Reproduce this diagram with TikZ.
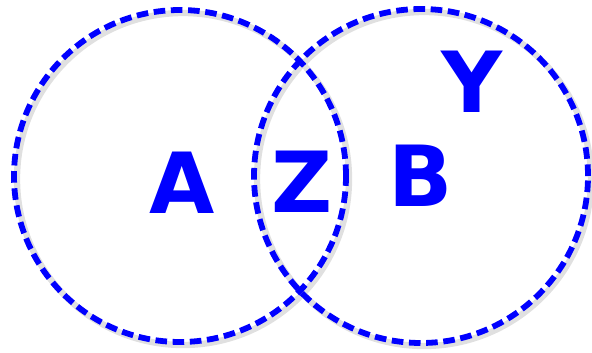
\documentclass[tikz,border=0pt]{standalone}
\usepackage{fontspec}
\setsansfont{DejaVu Sans}
\usetikzlibrary{positioning}

\tikzset{
  setline/.style={draw=blue, line width=3.3pt, dash pattern=on 6.6pt off 3.2pt},
  setshadow/.style={draw=black!12, line width=3.6pt},
  letter/.style={text=blue, font=\sffamily\bfseries\fontsize{48}{56}\selectfont, inner sep=0pt}
}

\begin{document}
\begin{tikzpicture}
          \useasboundingbox (0,0) rectangle (11.84,7.04);

          % shadows
          \draw[setshadow] (3.66,3.46) circle (3.32);
          \draw[setshadow] (8.48,3.46) circle (3.34);

          % sets
          \draw[setline] (3.6,3.52) circle (3.32);
          \draw[setline] (8.42,3.52) circle (3.34);

          \node[letter] (A) at (3.64,3.38) {A};
          \node[letter] (Z) at (6.04,3.40) {Z};
          \node[letter] (B) at (8.42,3.52) {B};
          \node[letter] (Y) at (9.44,5.40) {Y};
        \end{tikzpicture}
\end{document}
